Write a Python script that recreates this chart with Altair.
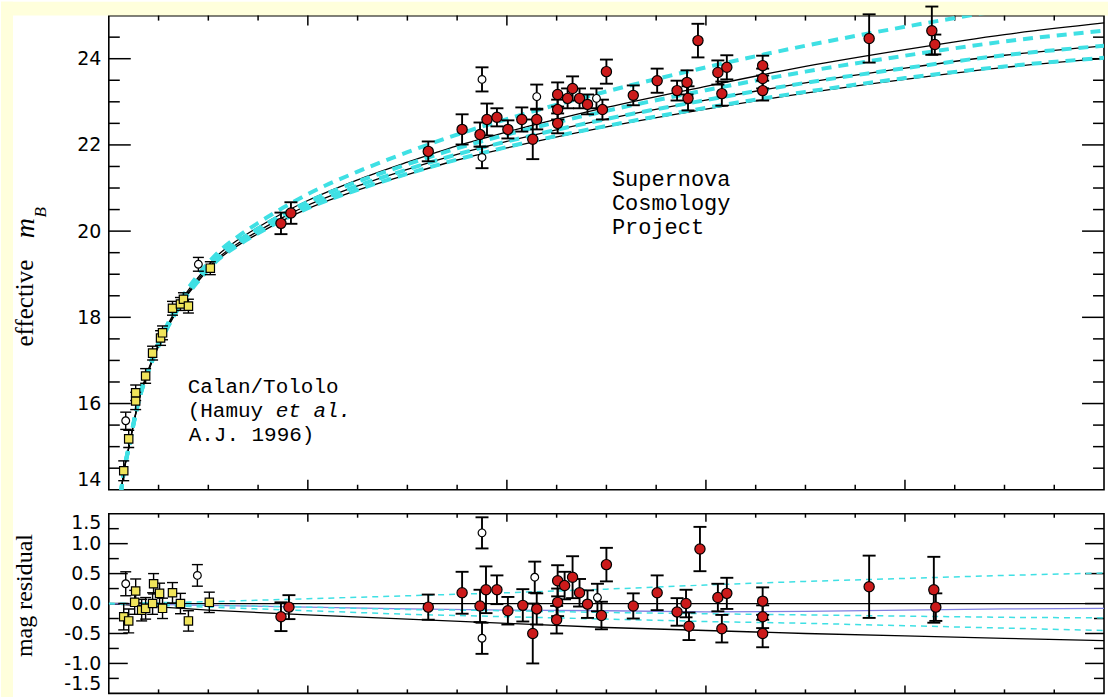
import altair as alt
import pandas as pd

# ---------------------------------------------------------------------------
# Hubble diagram of Type Ia supernovae: Calan/Tololo (low z) + SCP (high z)
# ---------------------------------------------------------------------------

# model curves for the upper panel, effective m_B sampled in redshift
curve_z = [0.010, 0.015, 0.020, 0.030, 0.040, 0.050, 0.060, 0.075, 0.090, 0.110, 0.130, 0.150,
           0.175, 0.200, 0.250, 0.300, 0.350, 0.400, 0.500, 0.600, 0.700, 0.800, 0.900, 1.000]
curve_cyan_top = [13.51, 14.42, 14.99, 16.10, 16.83, 17.41, 17.89, 18.51, 18.99, 19.51, 19.88, 20.19,
                  20.54, 20.86, 21.38, 21.83, 22.24, 22.60, 23.24, 23.80, 24.30, 24.74, 25.13, 25.42]
curve_black_top = [13.50, 14.41, 14.98, 16.08, 16.80, 17.38, 17.86, 18.47, 18.93, 19.45, 19.80, 20.09,
                   20.42, 20.71, 21.19, 21.60, 21.98, 22.30, 22.87, 23.36, 23.82, 24.21, 24.56, 24.83]
curve_cyan_2 = [13.50, 14.40, 14.98, 16.07, 16.80, 17.37, 17.84, 18.45, 18.92, 19.42, 19.77, 20.06,
                20.39, 20.68, 21.15, 21.55, 21.92, 22.24, 22.79, 23.27, 23.70, 24.07, 24.40, 24.65]
curve_mid = [13.50, 14.40, 14.97, 16.06, 16.78, 17.35, 17.82, 18.42, 18.88, 19.38, 19.72, 20.00,
             20.32, 20.60, 21.05, 21.43, 21.78, 22.08, 22.60, 23.04, 23.44, 23.78, 24.08, 24.30]
curve_cyan_low = [13.50, 14.40, 14.96, 16.05, 16.76, 17.33, 17.80, 18.39, 18.84, 19.34, 19.67, 19.95,
                  20.26, 20.53, 20.96, 21.33, 21.66, 21.95, 22.44, 22.86, 23.23, 23.55, 23.82, 24.02]
curve_black_low = [13.50, 14.40, 14.96, 16.05, 16.76, 17.33, 17.80, 18.39, 18.84, 19.34, 19.67, 19.94,
                   20.25, 20.52, 20.95, 21.31, 21.65, 21.93, 22.42, 22.83, 23.20, 23.52, 23.80, 24.00]

# model curves for the residual panel
res_curve_z = [0.0, 0.1, 0.2, 0.3, 0.4, 0.5, 0.6, 0.7, 0.8, 0.9, 1.0]
res_zero = [0.00, 0.00, 0.00, 0.00, 0.00, 0.00, 0.00, 0.00, 0.00, 0.00, 0.00]
res_cyan_top = [0.00, 0.03, 0.08, 0.13, 0.18, 0.24, 0.31, 0.37, 0.42, 0.47, 0.51]
res_blue = [0.00, -0.03, -0.06, -0.09, -0.11, -0.12, -0.14, -0.13, -0.11, -0.09, -0.08]
res_cyan_mid = [0.00, -0.03, -0.06, -0.10, -0.12, -0.15, -0.17, -0.19, -0.21, -0.23, -0.24]
res_cyan_low = [0.00, -0.06, -0.12, -0.18, -0.22, -0.26, -0.30, -0.33, -0.37, -0.41, -0.45]
res_black_low = [0.00, -0.11, -0.19, -0.26, -0.33, -0.40, -0.45, -0.50, -0.54, -0.58, -0.62]

# Calan/Tololo supernovae, upper panel
ct_z = [0.015, 0.020, 0.027, 0.027, 0.037, 0.044, 0.052, 0.054, 0.064, 0.072, 0.075, 0.080, 0.102]
ct_m = [14.44, 15.18, 16.06, 16.25, 16.64, 17.17, 17.52, 17.64, 18.21, 18.31, 18.42, 18.26, 19.14]
ct_err = [0.23, 0.20, 0.20, 0.18, 0.17, 0.16, 0.17, 0.16, 0.16, 0.15, 0.15, 0.16, 0.15]
ct_open_z = [0.017, 0.090]
ct_open_m = [15.60, 19.23]
ct_open_err = [0.20, 0.16]

# Supernova Cosmology Project supernovae, upper panel
scp_z = [0.173, 0.183, 0.321, 0.355, 0.373, 0.380, 0.390, 0.401, 0.415, 0.430, 0.426, 0.451,
         0.451, 0.451, 0.466, 0.461, 0.473, 0.481, 0.496, 0.500, 0.527, 0.551, 0.571, 0.581,
         0.582, 0.592, 0.612, 0.621, 0.616, 0.657, 0.657, 0.657, 0.764, 0.827, 0.830]
scp_m = [20.18, 20.42, 21.85, 22.36, 22.24, 22.59, 22.64, 22.36, 22.59, 22.59, 22.13, 23.17,
         22.82, 22.50, 23.31, 23.08, 23.08, 22.94, 22.82, 23.70, 23.15, 23.49, 23.26, 23.45,
         23.08, 24.42, 23.68, 23.80, 23.19, 23.84, 23.54, 23.26, 24.47, 24.65, 24.33]
scp_err = [0.25, 0.25, 0.23, 0.35, 0.28, 0.37, 0.21, 0.21, 0.28, 0.23, 0.46, 0.28,
           0.23, 0.23, 0.28, 0.23, 0.23, 0.23, 0.23, 0.28, 0.23, 0.28, 0.23, 0.28,
           0.28, 0.39, 0.28, 0.28, 0.28, 0.23, 0.23, 0.23, 0.56, 0.56, 0.23]
scp_open_z = [0.375, 0.375, 0.430, 0.490]
scp_open_m = [23.52, 21.71, 23.12, 23.08]
scp_open_err = [0.28, 0.25, 0.28, 0.23]

# residuals, Calan/Tololo
ct_res_z = [0.015, 0.020, 0.027, 0.026, 0.033, 0.037, 0.045, 0.044, 0.051, 0.054, 0.064, 0.072, 0.080, 0.101]
ct_res = [-0.22, -0.29, 0.21, 0.02, -0.11, -0.08, 0.33, 0.00, 0.17, -0.08, 0.18, 0.00, -0.29, 0.02]
ct_res_err = [0.22, 0.20, 0.20, 0.20, 0.18, 0.18, 0.17, 0.18, 0.17, 0.17, 0.17, 0.17, 0.17, 0.17]
ct_res_open_z = [0.017, 0.089]
ct_res_open = [0.33, 0.47]
ct_res_open_err = [0.20, 0.18]

# residuals, Supernova Cosmology Project
scp_res_z = [0.173, 0.181, 0.321, 0.355, 0.373, 0.379, 0.390, 0.401, 0.416, 0.426, 0.430, 0.451,
             0.451, 0.450, 0.458, 0.466, 0.473, 0.481, 0.495, 0.500, 0.527, 0.551, 0.571, 0.580,
             0.583, 0.594, 0.612, 0.621, 0.616, 0.657, 0.657, 0.657, 0.764, 0.829, 0.831]
scp_res = [-0.22, -0.06, -0.06, 0.18, -0.04, 0.23, 0.23, -0.12, -0.03, -0.50, -0.09, 0.38,
           0.02, -0.27, 0.30, 0.44, 0.18, -0.01, -0.20, 0.65, -0.04, 0.18, -0.14, 0.00,
           -0.38, 0.91, 0.10, 0.17, -0.42, 0.04, -0.22, -0.50, 0.28, 0.23, -0.06]
scp_res_err = [0.24, 0.20, 0.21, 0.35, 0.27, 0.39, 0.24, 0.23, 0.27, 0.50, 0.26, 0.26,
               0.23, 0.23, 0.23, 0.35, 0.23, 0.23, 0.23, 0.28, 0.21, 0.29, 0.23, 0.23,
               0.23, 0.37, 0.23, 0.26, 0.23, 0.23, 0.19, 0.23, 0.52, 0.55, 0.23]
scp_res_open_z = [0.375, 0.375, 0.428, 0.491]
scp_res_open = [1.18, -0.58, 0.44, 0.10]
scp_res_open_err = [0.26, 0.26, 0.26, 0.23]

# axis ticks
top_labels = [14, 16, 18, 20, 22, 24]
top_minor = [v / 2 for v in range(29, 50) if v % 4 != 0]
top_major = [16, 18, 20, 22, 24]
res_labels = [-1.5, -1.0, -0.5, 0.0, 0.5, 1.0, 1.5]
res_minor = [-1.25, -0.75, -0.25, 0.25, 0.75, 1.25]
res_major = [-1.0, -0.5, 0.0, 0.5, 1.0]
z_minor = [round(0.05 * k, 2) for k in range(1, 20) if k % 4 != 0]
z_major = [0.2, 0.4, 0.6, 0.8]

# ---------------------------------------------------------------------------
# styling
# ---------------------------------------------------------------------------
W, H_TOP, H_RES, GAP = 997, 475, 180, 24
PAGE_YELLOW = "#ffffdc"
CYAN = "#3fe0e4"
RED = "#cc1b1b"
YELLOW = "#f0e45a"
BLUE = "#8080e0"

one = pd.DataFrame({"k": [0]})
x_scale = alt.Scale(domain=[0, 1], nice=False, zero=False)
top_scale = alt.Scale(domain=[14, 25], nice=False, zero=False)
res_scale = alt.Scale(domain=[-1.5, 1.5], nice=False, zero=False)

label_style = dict(ticks=False, domain=False, grid=False, labelFont="DejaVu Sans",
                   labelFontSize=19, labelColor="black", labelPadding=8,
                   labelFlush=True, labelOverlap=False, title=None)
top_axis = alt.Axis(values=top_labels, format="d", **label_style)
res_axis = alt.Axis(values=res_labels,
                    labelExpr="datum.value < 0 ? '-' + format(-datum.value, '.1f') : format(datum.value, '.1f')",
                    **label_style)


def X(field):
    return alt.X(f"{field}:Q", scale=x_scale, axis=None)


def y_maker(scale, axis):
    def Y(field):
        return alt.Y(f"{field}:Q", scale=scale, axis=axis)
    return Y


YT = y_maker(top_scale, top_axis)
YR = y_maker(res_scale, res_axis)


def sample(z, v, e):
    df = pd.DataFrame({"z": z, "v": v, "e": e})
    df["lo"] = df["v"] - df["e"]
    df["hi"] = df["v"] + df["e"]
    return df


def long_curves(z, named):
    return pd.concat([pd.DataFrame({"z": z, "v": vals, "curve": name})
                      for name, vals in named.items()], ignore_index=True)


def error_layers(df, Y, width=1.6, cap=12):
    base = alt.Chart(df)
    bars = base.mark_rule(color="black", strokeWidth=width).encode(x=X("z"), y=Y("lo"), y2=alt.Y2("hi:Q"))
    lo = base.mark_tick(orient="horizontal", color="black", size=cap, thickness=width, opacity=1).encode(
        x=X("z"), y=Y("lo"))
    hi = base.mark_tick(orient="horizontal", color="black", size=cap, thickness=width, opacity=1).encode(
        x=X("z"), y=Y("hi"))
    return [bars, lo, hi]


def markers(df, Y, shape, fill, size):
    return alt.Chart(df).mark_point(shape=shape, filled=True, fill=fill, stroke="black",
                                    strokeWidth=1.2, size=size, opacity=1).encode(x=X("z"), y=Y("v"))


def frame_ticks(Y, height, y_minor, y_major, y_short, y_long, x_short, x_long):
    layers = []
    for vals, length in ((y_minor, y_short), (y_major, y_long)):
        df = pd.DataFrame({"v": vals})
        layers.append(alt.Chart(df).mark_rule(color="black", strokeWidth=1.5).encode(
            y=Y("v"), x=alt.value(0), x2=alt.value(length)))
        layers.append(alt.Chart(df).mark_rule(color="black", strokeWidth=1.5).encode(
            y=Y("v"), x=alt.value(W), x2=alt.value(W - length)))
    for vals, length in ((z_minor, x_short), (z_major, x_long)):
        df = pd.DataFrame({"v": vals})
        layers.append(alt.Chart(df).mark_rule(color="black", strokeWidth=1.5).encode(
            x=X("v"), y=alt.value(0), y2=alt.value(length)))
        layers.append(alt.Chart(df).mark_rule(color="black", strokeWidth=1.5).encode(
            x=X("v"), y=alt.value(height), y2=alt.value(height - length)))
    return layers


def label(text, x, y, size, font="Liberation Mono", style="normal", angle=0, align="left",
          baseline="middle"):
    kw = dict(text=text, font=font, fontSize=size, fontStyle=style, align=align,
              baseline=baseline, color="black")
    if angle:
        kw["angle"] = angle
    return alt.Chart(one).mark_text(**kw).encode(x=alt.value(x), y=alt.value(y))


# ---------------------------------------------------------------------------
# upper panel: effective m_B
# ---------------------------------------------------------------------------
page_strips = [
    alt.Chart(one).mark_rect(color=PAGE_YELLOW).encode(
        x=alt.value(-108), x2=alt.value(-96), y=alt.value(-14), y2=alt.value(H_TOP + GAP + H_RES + 4)),
    alt.Chart(one).mark_rect(color=PAGE_YELLOW).encode(
        x=alt.value(-108), x2=alt.value(W + 4), y=alt.value(-14), y2=alt.value(0)),
]

TXT = 21      # annotation font size
LINE = 24     # annotation line spacing
top_titles = [
    label("effective", -76, 288, 25, font="Liberation Serif", angle=270, align="center",
          baseline="alphabetic"),
    label("m", -75, 213, 28, font="Liberation Serif", style="italic", angle=270, align="center",
          baseline="alphabetic"),
    label("B", -63, 197, 17, font="Liberation Serif", style="italic", angle=270, align="center",
          baseline="alphabetic"),
    label("Calan/Tololo", 79, 372, TXT),
    label("(Hamuy", 79, 372 + LINE, TXT),
    label("et al.", 79 + 7 * 0.6 * TXT, 372 + LINE, TXT, style="italic"),
    label("A.J. 1996)", 80, 372 + 2 * LINE, TXT),
    label("Supernova", 504, 164, TXT + 1),
    label("Cosmology", 504, 164 + LINE, TXT + 1),
    label("Project", 504, 164 + 2 * LINE, TXT + 1),
]

black_curves = long_curves(curve_z, {"top": curve_black_top, "mid": curve_mid, "low": curve_black_low})
cyan_curves = long_curves(curve_z, {"top": curve_cyan_top, "second": curve_cyan_2,
                                    "mid": curve_mid, "low": curve_cyan_low})

top_lines = [
    alt.Chart(black_curves).mark_line(color="black", strokeWidth=1.3, clip=True,
                                      interpolate="monotone").encode(x=X("z"), y=YT("v"), detail="curve:N"),
    alt.Chart(cyan_curves).mark_line(color=CYAN, strokeWidth=4, strokeDash=[10, 7], clip=True,
                                     interpolate="monotone").encode(x=X("z"), y=YT("v"), detail="curve:N"),
]

ct_top = sample(ct_z, ct_m, ct_err)
ct_top_open = sample(ct_open_z, ct_open_m, ct_open_err)
scp_top = sample(scp_z, scp_m, scp_err)
scp_top_open = sample(scp_open_z, scp_open_m, scp_open_err)

top_points = (error_layers(ct_top, YT, 1.4, 11) + error_layers(ct_top_open, YT, 1.4, 11)
              + error_layers(scp_top, YT, 1.9, 13) + error_layers(scp_top_open, YT, 1.9, 13)
              + [markers(ct_top, YT, "square", YELLOW, 70),
                 markers(ct_top_open, YT, "circle", "white", 60),
                 markers(scp_top_open, YT, "circle", "white", 60),
                 markers(scp_top, YT, "circle", RED, 105)])

top = alt.layer(
    *page_strips, *top_titles,
    *frame_ticks(YT, H_TOP, top_minor, top_major, 11, 22, 5, 10),
    *top_lines, *top_points,
).properties(width=W, height=H_TOP)

# ---------------------------------------------------------------------------
# lower panel: magnitude residuals
# ---------------------------------------------------------------------------
res_black = long_curves(res_curve_z, {"zero": res_zero, "low": res_black_low})
res_cyan = long_curves(res_curve_z, {"top": res_cyan_top, "mid": res_cyan_mid, "low": res_cyan_low})
res_blue_df = long_curves(res_curve_z, {"blue": res_blue})

res_lines = [
    alt.Chart(res_black).mark_line(color="black", strokeWidth=1.3, clip=True).encode(
        x=X("z"), y=YR("v"), detail="curve:N"),
    alt.Chart(res_blue_df).mark_line(color=BLUE, strokeWidth=1.3, clip=True).encode(
        x=X("z"), y=YR("v"), detail="curve:N"),
    alt.Chart(res_cyan).mark_line(color=CYAN, strokeWidth=1.5, strokeDash=[6, 5], clip=True).encode(
        x=X("z"), y=YR("v"), detail="curve:N"),
]

ct_bot = sample(ct_res_z, ct_res, ct_res_err)
ct_bot_open = sample(ct_res_open_z, ct_res_open, ct_res_open_err)
scp_bot = sample(scp_res_z, scp_res, scp_res_err)
scp_bot_open = sample(scp_res_open_z, scp_res_open, scp_res_open_err)

res_points = (error_layers(ct_bot, YR, 1.4, 11) + error_layers(ct_bot_open, YR, 1.4, 11)
              + error_layers(scp_bot, YR, 1.9, 13) + error_layers(scp_bot_open, YR, 1.9, 13)
              + [markers(ct_bot, YR, "square", YELLOW, 70),
                 markers(ct_bot_open, YR, "circle", "white", 60),
                 markers(scp_bot_open, YR, "circle", "white", 60),
                 markers(scp_bot, YR, "circle", RED, 105)])

bottom = alt.layer(
    label("mag residual", -77, 82, 24, font="Liberation Serif", angle=270, align="center",
          baseline="alphabetic"),
    *frame_ticks(YR, H_RES, res_minor, res_major, 10, 19, 4, 8),
    *res_lines, *res_points,
).properties(width=W, height=H_RES)

chart = alt.vconcat(top, bottom, spacing=GAP, bounds="flush").properties(
    padding=0, background="white"
).configure_view(stroke="black", strokeWidth=1.6)

chart.save("out.html", embed_options={"renderer": "svg", "actions": False})
